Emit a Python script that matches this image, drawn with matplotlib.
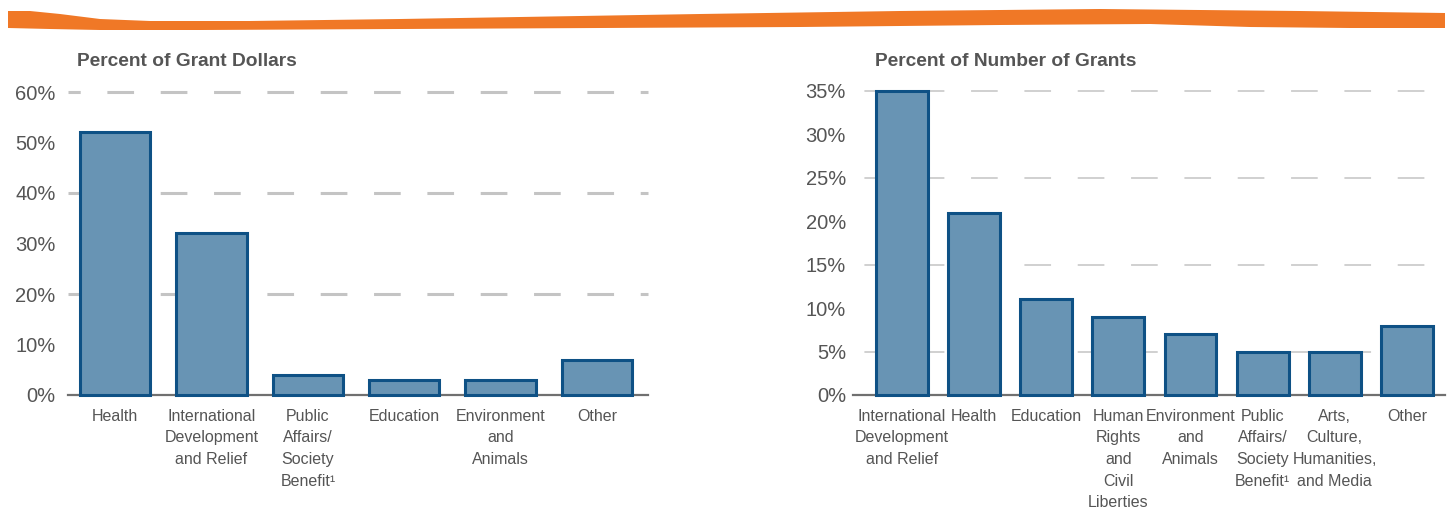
import matplotlib
matplotlib.use("Agg")
import matplotlib.pyplot as plt
from matplotlib import font_manager
from matplotlib.patches import Polygon

names = {f.name for f in font_manager.fontManager.ttflist}
if 'Liberation Sans Narrow' in names:
    NARROW, NSIZE = 'Liberation Sans Narrow', 13.5
else:
    NARROW, NSIZE = 'Liberation Sans', 11.5
REG = 'Liberation Sans'
plt.rcParams['lines.scale_dashes'] = False

# ---- data ----
dollar_categories = ["Health", "International\nDevelopment\nand Relief", "Public\nAffairs/\nSociety\nBenefit\u00b9",
                     "Education", "Environment\nand\nAnimals", "Other"]
dollar_values = [52, 32, 4, 3, 3, 7]
dollar_ticks = [0, 10, 20, 30, 40, 50, 60]
dollar_grid = [20, 40, 60]

count_categories = ["International\nDevelopment\nand Relief", "Health", "Education", "Human\nRights\nand\nCivil\nLiberties",
                    "Environment\nand\nAnimals", "Public\nAffairs/\nSociety\nBenefit\u00b9", "Arts,\nCulture,\nHumanities,\nand Media",
                    "Other"]
count_values = [35, 21, 11, 9, 7, 5, 5, 8]
count_ticks = [0, 5, 10, 15, 20, 25, 30, 35]
count_grid = [5, 15, 25, 35]

W, H = 1450, 512
fig = plt.figure(figsize=(W / 100, H / 100), dpi=100)

BAR_FC = '#6894B4'
BAR_EC = '#0E5185'
TXT = '#555555'

def px_ax(x0, x1, ybot, ytop):
    return fig.add_axes([x0 / W, 1 - ybot / H, (x1 - x0) / W, (ybot - ytop) / H])

def draw(ax, cats, vals, ticks, grid, xlim, ymax, width, glw, goffset, title, title_x):
    ax.set_xlim(*xlim)
    ax.set_ylim(0, ymax)
    for s in ax.spines.values():
        s.set_visible(False)
    for g in grid:
        ax.plot(xlim, [g, g], color='#C4C4C4', lw=glw, solid_capstyle='butt',
                linestyle=(goffset, (19.2, 19.2)), zorder=1, clip_on=False)
    ax.axhline(0, color='#707070', lw=1.6, zorder=2, clip_on=False)
    bars = ax.bar(range(len(vals)), vals, width=width, color=BAR_FC, edgecolor=BAR_EC,
                  linewidth=2.2, zorder=3)
    for b in bars:
        b.set_clip_on(False)
    ax.set_xticks(range(len(cats)))
    ax.set_xticklabels(cats, fontfamily=NARROW, fontsize=NSIZE, color=TXT, linespacing=1.55, va='top')
    ax.set_yticks(ticks)
    ax.set_yticklabels([f"{t}%" for t in ticks], fontfamily=REG, fontsize=14.5, color=TXT)
    ax.tick_params(axis='both', length=0)
    ax.tick_params(axis='x', pad=10)
    ax.tick_params(axis='y', pad=9)
    fig.text(title_x / W, 1 - 62 / H, title, fontfamily=REG, fontweight='bold', fontsize=13.8,
             color=TXT, ha='left', va='center')

ax1 = px_ax(68, 648, 395, 92)
draw(ax1, dollar_categories, dollar_values, dollar_ticks, dollar_grid, (-0.49, 5.53), 60, 0.73,
     2.2, 10.4, "Percent of Grant Dollars", 77)

ax2 = px_ax(853, 1445, 395, 91)
draw(ax2, count_categories, count_values, count_ticks, count_grid, (-0.68, 7.53), 35, 0.72,
     1.1, 30.2, "Percent of Number of Grants", 875)
ax2.tick_params(axis='y', pad=5)

# orange decorative band at top
top = [(8, 11), (30, 11), (60, 14), (100, 19), (150, 21), (250, 21), (400, 19), (700, 14), (900, 11),
       (1100, 9), (1300, 11), (1445, 13)]
bot = [(1445, 28), (1350, 28), (1250, 27), (1150, 24), (1000, 25), (800, 27), (600, 28),
       (400, 29), (200, 30), (100, 30), (50, 29), (8, 28)]
pts = [(x / W, 1 - y / H) for x, y in top + bot]
fig.patches.append(Polygon(pts, closed=True, transform=fig.transFigure, facecolor='#F07826',
                           edgecolor='none', figure=fig))

fig.savefig("out.png", dpi=100)
